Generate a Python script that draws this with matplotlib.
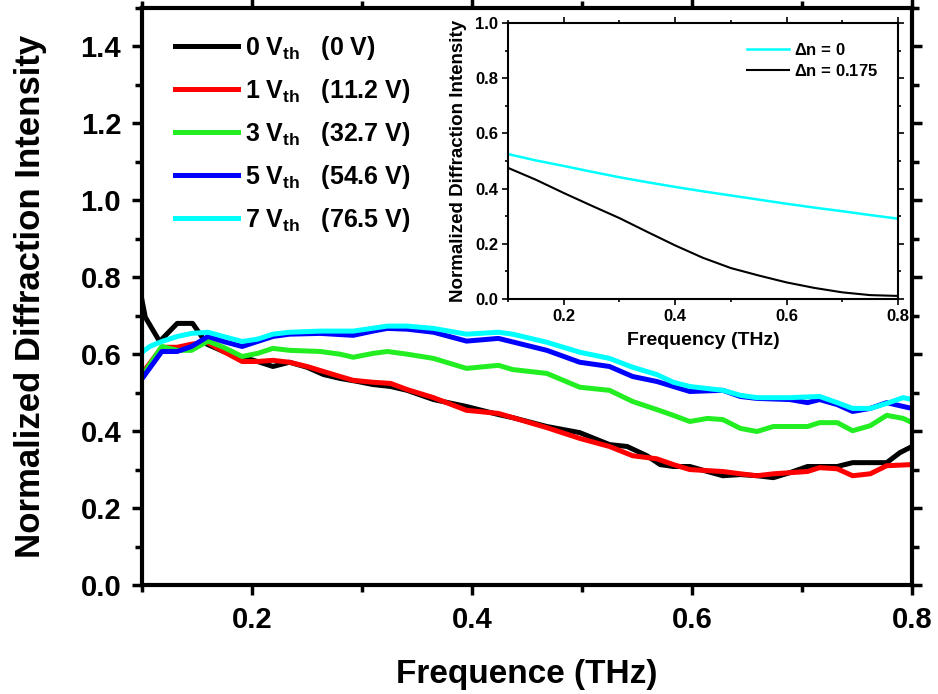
import numpy as np
import matplotlib
matplotlib.use('Agg')
import matplotlib.pyplot as plt
from matplotlib.ticker import MultipleLocator

plt.rcParams['font.family'] = ['Liberation Sans', 'DejaVu Sans']
plt.rcParams['font.weight'] = 'bold'
plt.rcParams['mathtext.fontset'] = 'custom'
plt.rcParams['mathtext.rm'] = 'Liberation Sans:bold'
plt.rcParams['mathtext.it'] = 'Liberation Sans:bold'
plt.rcParams['mathtext.bf'] = 'Liberation Sans:bold'

# measured curves (frequency in THz, normalized intensity)
f_0v = [0.100, 0.103, 0.116, 0.132, 0.146, 0.159, 0.174, 0.189, 0.205, 0.219, 0.234, 0.250, 0.265,
        0.280, 0.296, 0.310, 0.326, 0.341, 0.365, 0.395, 0.424, 0.437, 0.468, 0.498, 0.525, 0.541,
        0.559, 0.571, 0.583, 0.598, 0.614, 0.628, 0.644, 0.659, 0.674, 0.689, 0.705, 0.732, 0.746,
        0.777, 0.789, 0.800]
i_0v = [0.740, 0.696, 0.633, 0.680, 0.680, 0.626, 0.607, 0.594, 0.581, 0.568, 0.579, 0.566, 0.547,
        0.537, 0.529, 0.521, 0.516, 0.506, 0.482, 0.464, 0.443, 0.435, 0.412, 0.396, 0.365, 0.360,
        0.336, 0.313, 0.308, 0.308, 0.295, 0.284, 0.287, 0.284, 0.279, 0.292, 0.308, 0.308, 0.318,
        0.318, 0.344, 0.360]

f_1v = [0.101, 0.118, 0.132, 0.145, 0.159, 0.174, 0.191, 0.205, 0.219, 0.234, 0.250, 0.265, 0.280,
        0.292, 0.310, 0.326, 0.341, 0.365, 0.395, 0.424, 0.468, 0.498, 0.525, 0.546, 0.568, 0.583,
        0.598, 0.628, 0.644, 0.659, 0.674, 0.705, 0.716, 0.732, 0.746, 0.762, 0.777, 0.800]
i_1v = [0.553, 0.618, 0.618, 0.626, 0.631, 0.607, 0.581, 0.581, 0.584, 0.579, 0.568, 0.555, 0.542,
        0.532, 0.527, 0.524, 0.508, 0.487, 0.454, 0.446, 0.409, 0.381, 0.360, 0.336, 0.328, 0.313,
        0.300, 0.295, 0.289, 0.284, 0.289, 0.295, 0.305, 0.302, 0.284, 0.289, 0.310, 0.313]

f_3v = [0.101, 0.118, 0.132, 0.145, 0.160, 0.174, 0.191, 0.205, 0.219, 0.234, 0.262, 0.280, 0.292,
        0.310, 0.323, 0.341, 0.365, 0.395, 0.424, 0.437, 0.468, 0.498, 0.525, 0.546, 0.568, 0.583,
        0.598, 0.614, 0.628, 0.644, 0.659, 0.674, 0.705, 0.716, 0.732, 0.746, 0.762, 0.777, 0.792,
        0.800]
i_3v = [0.547, 0.620, 0.610, 0.610, 0.634, 0.618, 0.594, 0.602, 0.615, 0.610, 0.607, 0.600, 0.592,
        0.602, 0.607, 0.600, 0.589, 0.563, 0.571, 0.560, 0.550, 0.514, 0.506, 0.477, 0.456, 0.441,
        0.425, 0.433, 0.430, 0.407, 0.399, 0.412, 0.412, 0.422, 0.422, 0.401, 0.414, 0.441, 0.433,
        0.422]

f_5v = [0.101, 0.118, 0.132, 0.145, 0.160, 0.174, 0.191, 0.205, 0.219, 0.234, 0.262, 0.292, 0.310,
        0.323, 0.341, 0.365, 0.395, 0.424, 0.468, 0.498, 0.525, 0.546, 0.568, 0.583, 0.598, 0.628,
        0.644, 0.659, 0.689, 0.705, 0.716, 0.732, 0.746, 0.762, 0.777, 0.792, 0.800]
i_5v = [0.540, 0.607, 0.607, 0.620, 0.646, 0.633, 0.620, 0.633, 0.646, 0.652, 0.654, 0.649, 0.660,
        0.667, 0.665, 0.657, 0.634, 0.641, 0.610, 0.579, 0.568, 0.542, 0.529, 0.516, 0.503, 0.506,
        0.490, 0.485, 0.482, 0.474, 0.482, 0.469, 0.451, 0.459, 0.474, 0.464, 0.459]

f_7v = [0.101, 0.107, 0.118, 0.132, 0.145, 0.160, 0.174, 0.191, 0.205, 0.219, 0.234, 0.262, 0.292,
        0.323, 0.341, 0.365, 0.395, 0.424, 0.437, 0.468, 0.498, 0.525, 0.546, 0.568, 0.583, 0.598,
        0.628, 0.644, 0.659, 0.689, 0.716, 0.732, 0.746, 0.762, 0.777, 0.792, 0.800]
i_7v = [0.607, 0.620, 0.633, 0.646, 0.654, 0.657, 0.646, 0.633, 0.639, 0.652, 0.657, 0.660, 0.660,
        0.673, 0.673, 0.667, 0.652, 0.657, 0.652, 0.631, 0.605, 0.589, 0.566, 0.547, 0.527, 0.516,
        0.506, 0.493, 0.487, 0.487, 0.490, 0.474, 0.459, 0.459, 0.472, 0.487, 0.482]

labels = [r'0 V$_{\mathrm{th}}$   (0 V)',
          r'1 V$_{\mathrm{th}}$   (11.2 V)',
          r'3 V$_{\mathrm{th}}$   (32.7 V)',
          r'5 V$_{\mathrm{th}}$   (54.6 V)',
          r'7 V$_{\mathrm{th}}$   (76.5 V)']
colors = ['black', '#ff0000', '#22ee22', '#0000ff', '#00ffff']

# simulated curves for the inset
f_sim = [0.10, 0.15, 0.20, 0.25, 0.30, 0.35, 0.40, 0.45, 0.50, 0.55, 0.60, 0.65, 0.70, 0.75, 0.80]
i_dn0 = [0.525, 0.502, 0.482, 0.461, 0.441, 0.423, 0.406, 0.390, 0.375, 0.360, 0.345, 0.331, 0.318,
         0.304, 0.291]
i_dn175 = [0.475, 0.432, 0.384, 0.338, 0.293, 0.243, 0.194, 0.149, 0.112, 0.085, 0.060, 0.040, 0.024,
           0.014, 0.011]

fig = plt.figure(figsize=(9.38, 6.94), dpi=100)
ax = fig.add_axes([0.1514, 0.1571, 0.8209, 0.8314])

series = [(f_0v, i_0v), (f_1v, i_1v), (f_3v, i_3v), (f_5v, i_5v), (f_7v, i_7v)]
for (f, i), lab, c in zip(series, labels, colors):
	ax.plot(f, i, color=c, lw=3.6, label=lab, solid_joinstyle='round')

ax.set_xlim(0.1, 0.8)
ax.set_ylim(0, 1.5)
ax.xaxis.set_major_locator(MultipleLocator(0.2))
ax.xaxis.set_minor_locator(MultipleLocator(0.1))
ax.yaxis.set_major_locator(MultipleLocator(0.2))
ax.yaxis.set_minor_locator(MultipleLocator(0.1))
ax.set_xticks([0.2, 0.4, 0.6, 0.8])
for s in ax.spines.values():
	s.set_linewidth(3)
ax.tick_params(which='both', direction='out', top=True, right=True, width=2.5, labelsize=21)
ax.tick_params(which='major', length=7, pad=8)
ax.tick_params(which='minor', length=5)
ax.set_xlabel('Frequence (THz)', fontsize=24, fontweight='bold', labelpad=18)
ax.set_ylabel('Normalized Diffraction Intensity', fontsize=25, fontweight='bold', labelpad=24)

leg = ax.legend(loc='upper left', bbox_to_anchor=(0.03, 0.972), frameon=False, fontsize=18,
                handlelength=2.5, handletextpad=0.3, labelspacing=0.6, borderaxespad=0)

# inset
ins = fig.add_axes([0.5416, 0.5692, 0.4158, 0.3977])
ins.plot(f_sim, i_dn0, color='#00ffff', lw=1.8, label=r'$\Delta$n = 0')
ins.plot(f_sim, i_dn175, color='black', lw=1.5, label=r'$\Delta$n = 0.175')
ins.set_xlim(0.1, 0.8)
ins.set_ylim(0, 1.0)
ins.set_xticks([0.2, 0.4, 0.6, 0.8])
ins.xaxis.set_minor_locator(MultipleLocator(0.1))
ins.yaxis.set_major_locator(MultipleLocator(0.2))
ins.yaxis.set_minor_locator(MultipleLocator(0.1))
for s in ins.spines.values():
	s.set_linewidth(1.5)
ins.tick_params(which='both', direction='out', top=True, right=True, width=1.2, labelsize=12)
ins.tick_params(which='major', length=4, pad=3)
ins.tick_params(which='minor', length=2.5)
ins.set_xlabel('Frequency (THz)', fontsize=14, fontweight='bold', labelpad=6)
ins.set_ylabel('Normalized Diffraction Intensity', fontsize=13.5, fontweight='bold', labelpad=6)
ins.legend(loc='upper right', bbox_to_anchor=(0.965, 0.955), frameon=False, fontsize=12,
           handlelength=2.5, handletextpad=0.3, labelspacing=0.3, borderaxespad=0)

fig.savefig('out.png', dpi=100)
